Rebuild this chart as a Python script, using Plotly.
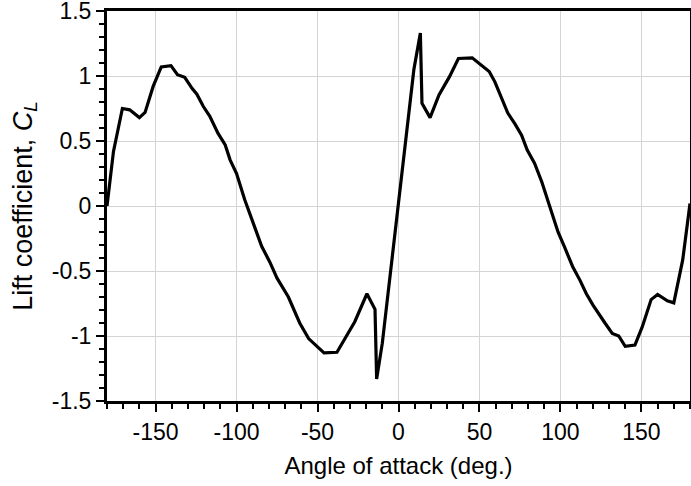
import plotly.graph_objects as go

# Data
angle_deg = [-180, -176, -170.5, -166, -160, -156.5, -151.5, -146.5, -140.5, -136.5,
             -132, -127.5, -124.5, -120.5, -116.5, -111.5, -107, -104, -100, -95,
             -84.5, -79.5, -75, -68, -61, -55.5, -46, -38, -27, -19.5,
             -14.5, -13.5, -10, 0, 9.5, 13.5, 14.5, 19.5, 25, 31.5,
             37, 45.5, 51, 56, 59.5, 63.5, 67.5, 72, 76, 79.5,
             84, 88.5, 93.5, 98.5, 102.5, 107.5, 112, 116, 120, 124.5,
             127.5, 132, 136, 140, 146, 150.5, 156, 160, 166, 170,
             175.5, 180]
lift_cl = [0.0, 0.42, 0.75, 0.74, 0.68, 0.72, 0.92, 1.07, 1.08, 1.01,
           0.99, 0.905, 0.86, 0.765, 0.69, 0.56, 0.47, 0.355, 0.25, 0.05,
           -0.31, -0.43, -0.555, -0.70, -0.90, -1.02, -1.13, -1.125, -0.89, -0.675,
           -0.795, -1.33, -1.055, 0.0, 1.05, 1.33, 0.79, 0.68, 0.855, 0.995,
           1.135, 1.14, 1.085, 1.035, 0.955, 0.84, 0.715, 0.63, 0.545, 0.43,
           0.33, 0.185, 0.0, -0.2, -0.315, -0.465, -0.57, -0.675, -0.76, -0.85,
           -0.9, -0.98, -1.0, -1.08, -1.07, -0.93, -0.72, -0.68, -0.73, -0.745,
           -0.415, 0.02]

x_tickvals = [-150, -100, -50, 0, 50, 100, 150]
x_ticktext = ["-150", "-100", "-50", "0", "50", "100", "150"]
y_tickvals = [-1.5, -1, -0.5, 0, 0.5, 1, 1.5]
y_ticktext = ["-1.5", "-1", "-0.5", "0", "0.5", "1", "1.5"]

font_family = "Liberation Sans"

fig = go.Figure()
fig.add_trace(go.Scatter(x=angle_deg, y=lift_cl, mode="lines",
                         line=dict(color="black", width=3.2),
                         showlegend=False))

axis_common = dict(
    showline=True, linecolor="black", linewidth=3, mirror=True,
    showgrid=True, gridcolor="#d4d4d4", gridwidth=1,
    zeroline=False, automargin=False, ticklabeloverflow="allow",
    ticks="outside", tickcolor="black", tickwidth=2,
    tickfont=dict(family=font_family, size=23, color="black"),
)

fig.update_xaxes(
    range=[-180, 180], tickvals=x_tickvals, ticktext=x_ticktext,
    ticklen=8,
    minor=dict(dtick=10, tick0=0, ticks="outside", ticklen=5, tickwidth=2,
               tickcolor="black", showgrid=False),
    title=dict(text="Angle of attack (deg.)", standoff=14,
               font=dict(family=font_family, size=24, color="black")),
    **axis_common,
)
fig.update_yaxes(
    range=[-1.5, 1.5], tickvals=y_tickvals, ticktext=y_ticktext,
    ticklen=8,
    minor=dict(dtick=0.1, tick0=0, ticks="outside", ticklen=5, tickwidth=2,
               tickcolor="black", showgrid=False),
    title=dict(text="Lift coefficient, <i>C</i><sub><i>L</i></sub>", standoff=12,
               font=dict(family=font_family, size=27, color="black")),
    **axis_common,
)

fig.add_annotation(text="(a)", xref="paper", yref="paper",
                   x=-0.18, y=-0.197, xanchor="right", yanchor="middle",
                   showarrow=False,
                   font=dict(family=font_family, size=20, color="black"))

fig.update_layout(
    width=691, height=486,
    margin=dict(l=107, r=1, t=11, b=85),
    paper_bgcolor="white", plot_bgcolor="white",
)

fig.write_html("out.html",
               config={"displayModeBar": False},
               post_script="document.body.style.margin='0';document.body.style.padding='0';document.body.style.overflow='hidden';")
